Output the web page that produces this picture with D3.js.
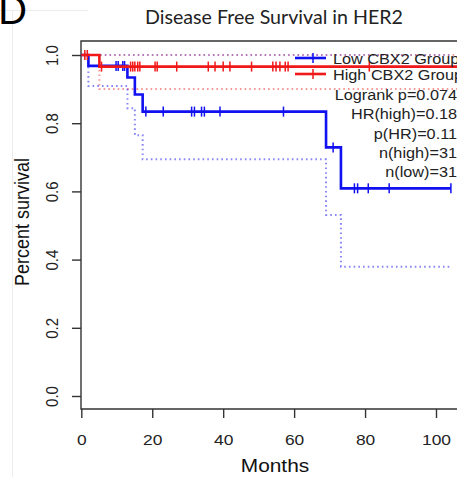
<!DOCTYPE html>
<html>
<head>
<meta charset="utf-8">
<script src="https://cdn.jsdelivr.net/npm/d3@7/dist/d3.min.js"></script>
<style>
  html, body { margin: 0; padding: 0; background: #fff; }
  svg { display: block; }
</style>
</head>
<body>
<svg id="chart" width="457" height="477"></svg>
<script>
// Kaplan-Meier curves: Disease free survival, HER2 subtype, split by CBX2 expression
const xTicks = [0, 20, 40, 60, 80, 100];
const yTicks = [0.0, 0.2, 0.4, 0.6, 0.8, 1.0];

// Low CBX2 group (blue)
const lowTimes = [0, 2.0, 13.0, 15.1, 17.3, 69.0, 73.2];
const lowSurv  = [1, 0.968, 0.934, 0.884, 0.834, 0.729, 0.609];
const lowLower = [1, 0.909, 0.844, 0.765, 0.694, 0.531, 0.379];
const lowUpper = [1, 1, 1, 1, 1, 1, 1];
const lowEnd = 104.2;
const lowCensor = [9.8, 10.4, 11.7, 12.2, 18.2, 23.1, 31.1, 31.9, 33.9, 34.7, 39.1, 57.0,
                   71.0, 77.0, 77.9, 80.9, 86.8, 104.2];

// High CBX2 group (red)
const highTimes = [0, 5.1];
const highSurv  = [1, 0.966];
const highLower = [1, 0.900];
const highUpper = [1, 1];
const highEnd = 112;
const highCensor = [1.0, 1.7, 5.7, 13.9, 14.5, 15.1, 15.9, 16.5, 20.8, 21.4, 26.9, 35.8, 37.7,
                    40.0, 41.9, 48.0, 54.0, 54.9, 56.0, 57.5, 58.3, 81.2];

const legendLabels = ["Low CBX2 Group", "High CBX2 Group"];
const statLabels = ["Logrank p=0.074", "HR(high)=0.18", "p(HR)=0.11", "n(high)=31", "n(low)=31"];

const BLUE = "#1010f0", RED = "#f01818";
const SX = 1.16;               // horizontal glyph stretch of the plot text
const FONT = "'Liberation Sans', Arial, sans-serif";

const svg = d3.select("#chart");

const x = d3.scaleLinear().domain([0, 100]).range([81.3, 436]);
const y = d3.scaleLinear().domain([0, 1]).range([396, 55]);
const box = { left: 81, top: 41, bottom: 409, right: 490 };

// faint frame lines of the panel
svg.append("line").attr("x1", 0).attr("x2", 88).attr("y1", 10.5).attr("y2", 10.5)
  .attr("stroke", "#ececec").attr("stroke-width", 1);
svg.append("line").attr("x1", 12.5).attr("x2", 12.5).attr("y1", 10).attr("y2", 477)
  .attr("stroke", "#ececec").attr("stroke-width", 1);

// panel letter and title
svg.append("text").attr("x", -2).attr("y", 24)
  .attr("font-family", "Lato, 'Open Sans', sans-serif").attr("font-size", 38)
  .attr("fill", "#000").text("D");
svg.append("text").attr("x", 274).attr("y", 24).attr("text-anchor", "middle")
  .attr("font-family", "Lato, 'Open Sans', sans-serif").attr("font-size", 20)
  .attr("textLength", 258).attr("lengthAdjust", "spacingAndGlyphs")
  .attr("fill", "#222").text("Disease Free Survival in HER2");

const plot = svg.append("g");

// plot frame
plot.append("path")
  .attr("d", `M${box.right},${box.top}H${box.left}V${box.bottom}H${box.right}`)
  .attr("fill", "none").attr("stroke", "#333").attr("stroke-width", 1.4);

// axes
const xAxis = d3.axisBottom(x).tickValues(xTicks).tickSize(9).tickFormat(d3.format("d"));
const gx = plot.append("g").attr("transform", `translate(0,${box.bottom})`).call(xAxis);
gx.select(".domain").remove();
gx.selectAll(".tick line").attr("stroke", "#333").attr("stroke-width", 1.4);
gx.selectAll(".tick text")
  .attr("y", 0).attr("dy", null)
  .attr("transform", `translate(0,36) scale(${SX},1)`)
  .attr("font-family", FONT).attr("font-size", 15).attr("fill", "#222");

const yAxis = d3.axisLeft(y).tickValues(yTicks).tickSize(9).tickFormat(d3.format(".1f"));
const gy = plot.append("g").attr("transform", `translate(${box.left},0)`).call(yAxis);
gy.select(".domain").remove();
gy.selectAll(".tick line").attr("stroke", "#333").attr("stroke-width", 1.4);
gy.selectAll(".tick text")
  .attr("x", 0).attr("dy", null).attr("text-anchor", "middle")
  .attr("transform", `translate(-23,0) scale(${SX},1) rotate(-90)`)
  .attr("font-family", FONT).attr("font-size", 15).attr("fill", "#222");

// axis titles
svg.append("text").attr("transform", `translate(275,472) scale(${SX},1)`)
  .attr("text-anchor", "middle").attr("font-family", FONT).attr("font-size", 18)
  .attr("fill", "#111").text("Months");
svg.append("text").attr("transform", `translate(28.5,222) scale(${SX},1) rotate(-90)`)
  .attr("text-anchor", "middle").attr("font-family", FONT).attr("font-size", 18)
  .attr("fill", "#111").text("Percent survival");

// step-function helpers
function stepPoints(times, vals, end) {
  const pts = times.map((t, i) => [t, vals[i]]);
  pts.push([end, vals[vals.length - 1]]);
  return pts;
}
const stepLine = d3.line().x(d => x(d[0])).y(d => y(d[1])).curve(d3.curveStepAfter);
function levelAt(times, vals, t) {
  return vals[Math.max(0, d3.bisectRight(times, t) - 1)];
}

const clip = svg.append("clipPath").attr("id", "plotclip")
  .append("rect").attr("x", box.left).attr("y", box.top)
  .attr("width", box.right - box.left).attr("height", box.bottom - box.top);
const curves = plot.append("g").attr("clip-path", "url(#plotclip)");

// confidence bands (dotted)
function dotted(times, vals, end, color, op) {
  curves.append("path").attr("d", stepLine(stepPoints(times, vals, end)))
    .attr("fill", "none").attr("stroke", color).attr("stroke-opacity", op)
    .attr("stroke-width", 2).attr("stroke-dasharray", "1.6 3.1");
}
dotted(highTimes, highLower, highEnd, RED, 0.45);
dotted(lowTimes, lowLower, lowEnd, BLUE, 0.5);
dotted(highTimes, highUpper, highEnd, RED, 0.4);
dotted(lowTimes, lowUpper, lowEnd, BLUE, 0.3);

// survival curves with censor marks
function curve(times, vals, end, censor, color) {
  curves.append("path").attr("d", stepLine(stepPoints(times, vals, end)))
    .attr("fill", "none").attr("stroke", color).attr("stroke-width", 2.6)
    .attr("stroke-linejoin", "miter");
  curves.selectAll(null).data(censor).enter().append("line")
    .attr("x1", d => x(d)).attr("x2", d => x(d))
    .attr("y1", d => y(levelAt(times, vals, d)) - 5)
    .attr("y2", d => y(levelAt(times, vals, d)) + 5)
    .attr("stroke", color).attr("stroke-width", 1.5);
}
curve(lowTimes, lowSurv, lowEnd, lowCensor, BLUE);
curve(highTimes, highSurv, highEnd, highCensor, RED);

// legend
const legendColors = [BLUE, RED];
const legendY = [58, 74];
legendLabels.forEach((lab, i) => {
  const g = svg.append("g");
  g.append("line").attr("x1", 295).attr("x2", 326).attr("y1", legendY[i]).attr("y2", legendY[i])
    .attr("stroke", legendColors[i]).attr("stroke-width", 2.6);
  g.append("line").attr("x1", 313).attr("x2", 313).attr("y1", legendY[i] - 5).attr("y2", legendY[i] + 5)
    .attr("stroke", legendColors[i]).attr("stroke-width", 1.5);
  g.append("text").attr("transform", `translate(333,${legendY[i] + 5.5}) scale(${SX},1)`)
    .attr("font-family", FONT).attr("font-size", 14).attr("fill", "#222").text(lab);
});

// statistics block, right aligned
const statY = [100, 119, 138.5, 157.5, 176.5];
statLabels.forEach((lab, i) => {
  svg.append("text").attr("transform", `translate(457,${statY[i]}) scale(${SX},1)`)
    .attr("text-anchor", "end").attr("font-family", FONT).attr("font-size", 14)
    .attr("fill", "#222").text(lab);
});
</script>
</body>
</html>
